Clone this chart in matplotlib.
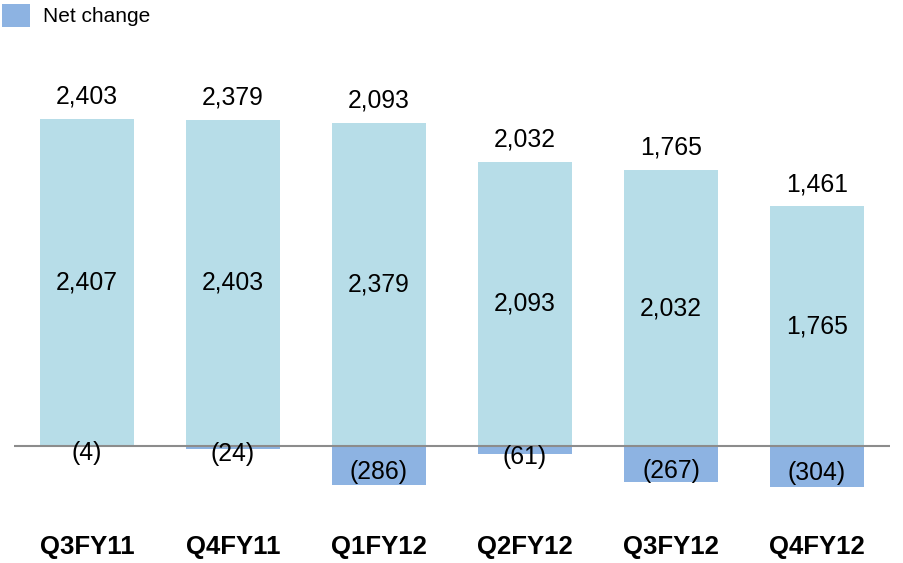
import matplotlib
matplotlib.use("Agg")
import matplotlib.pyplot as plt
from matplotlib.patches import Rectangle

categories = ["Q3FY11", "Q4FY11", "Q1FY12", "Q2FY12", "Q3FY12", "Q4FY12"]
beginning = [2407, 2403, 2379, 2093, 2032, 1765]
net_change = [-4, -24, -286, -61, -267, -304]
ending = [2403, 2379, 2093, 2032, 1765, 1461]

light = "#B7DDE8"
dark = "#8DB3E2"

plt.rcParams['font.family'] = ['Liberation Sans', 'DejaVu Sans']

fig = plt.figure(figsize=(9.04, 5.63), dpi=100)
W, H = 904, 563
ax = fig.add_axes([14 / W, (H - 500.3) / H, 876 / W, 440 / H])
x = list(range(len(categories)))
ax.bar(x, beginning, width=0.64, color=light, zorder=1)
ax.bar(x, net_change, width=0.64, color=dark, zorder=1)
ax.axhline(0, color="#8C8C8C", lw=1.5, zorder=2)
ax.set_xlim(-0.5, 5.5)
ax.set_ylim(-400, 2840)
ax.axis("off")

for i in x:
    ax.annotate(f"{ending[i]:,}", (i, beginning[i]), xytext=(0, 11),
                textcoords="offset points", ha="center", va="baseline", fontsize=17.8)
    ax.text(i, beginning[i] / 2, f"{beginning[i]:,}", ha="center", va="center", fontsize=17.8)
    ax.text(i, net_change[i] / 2 - 50, f"({abs(net_change[i]):,})", ha="center", va="center",
            fontsize=17.8, zorder=3)
    ax.text(i, -745, categories[i], ha="center", va="center", fontsize=18.5,
            fontweight="bold", clip_on=False)

fig.patches.append(Rectangle((2 / W, 1 - 27 / H), 28 / W, 23 / H, transform=fig.transFigure,
                             facecolor=dark, edgecolor="none"))
fig.text(43 / W, 1 - 17 / H, "Net change", ha="left", va="center", fontsize=15)

fig.savefig("out.png", dpi=100)
